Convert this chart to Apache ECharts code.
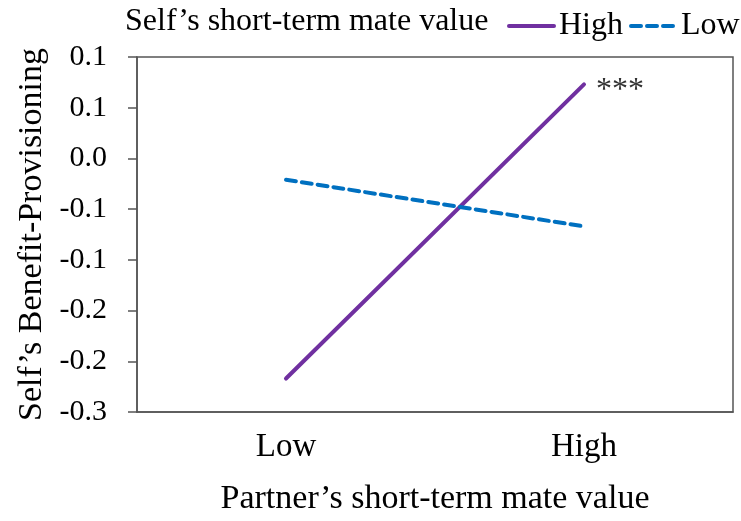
<!DOCTYPE html>
<html>
<head>
<meta charset="utf-8">
<script src="https://cdn.jsdelivr.net/npm/echarts@6/dist/echarts.min.js"></script>
<style>html,body{margin:0;padding:0;background:#fff}#c{width:741px;height:521px}</style>
</head>
<body>
<div id="c"></div>
<script>
var categories = ['Low', 'High'];
var highSeries = [-0.217, 0.073];
var lowSeries = [-0.021, -0.067];
var yMin = -0.25, yMax = 0.1, yInterval = 0.05;
var yTickLabels = ['-0.3', '-0.2', '-0.2', '-0.1', '-0.1', '0.0', '0.1', '0.1'];
var legendTitle = 'Self\u2019s short-term mate value';
var seriesNames = ['High', 'Low'];
var sigLabel = '***';

var font = 'Liberation Serif';
var chart = echarts.init(document.getElementById('c'));
chart.setOption({
  animation: false,
  backgroundColor: '#fff',
  textStyle: { fontFamily: font },
  title: {
    text: legendTitle, left: 120, top: 1,
    textStyle: { fontFamily: font, fontSize: 32, fontWeight: 'normal', color: '#000' }
  },
  legend: {
    data: seriesNames, left: 507, top: 10, padding: 0, orient: 'horizontal',
    itemWidth: 45, itemHeight: 14, itemGap: 6,
    itemStyle: { opacity: 0 },
    lineStyle: { width: 4 },
    textStyle: { fontFamily: font, fontSize: 32, color: '#000' }
  },
  grid: { left: 137, right: 8, top: 57, bottom: 103, show: true, borderColor: '#555', borderWidth: 1.5, backgroundColor: 'transparent' },
  xAxis: {
    type: 'category', data: categories, boundaryGap: true,
    axisLine: { onZero: false, lineStyle: { color: '#555', width: 1.5 } },
    axisTick: { show: false },
    axisLabel: { fontFamily: font, fontSize: 33, color: '#000', margin: 19 },
    name: 'Partner\u2019s short-term mate value', nameLocation: 'middle', nameGap: 70,
    nameTextStyle: { fontFamily: font, fontSize: 34, color: '#000' }
  },
  yAxis: {
    type: 'value', min: yMin, max: yMax, interval: yInterval,
    splitLine: { show: false },
    axisLine: { show: true, lineStyle: { color: '#555', width: 1.5 } },
    axisTick: { show: true, length: 9, lineStyle: { color: '#555', width: 1.5 } },
    axisLabel: {
      fontFamily: font, fontSize: 30, color: '#000', margin: 30,
      formatter: function (v) { return yTickLabels[Math.round((v - yMin) / yInterval)]; }
    },
    name: 'Self\u2019s Benefit-Provisioning', nameLocation: 'middle', nameGap: 87,
    nameTextStyle: { fontFamily: font, fontSize: 34, color: '#000' }
  },
  series: [
    {
      name: seriesNames[0], type: 'line', symbol: 'none',
      lineStyle: { color: '#7030A0', width: 4, cap: 'round' },
      itemStyle: { color: '#7030A0' },
      endLabel: { show: true, formatter: sigLabel, distance: 12, offset: [0, 6], fontFamily: font, fontSize: 32, color: '#333' },
      data: highSeries
    },
    {
      name: seriesNames[1], type: 'line', symbol: 'none',
      lineStyle: { color: '#0070C0', width: 4, type: [10, 6], cap: 'round' },
      itemStyle: { color: '#0070C0' },
      data: lowSeries
    }
  ]
});
</script>
</body>
</html>
